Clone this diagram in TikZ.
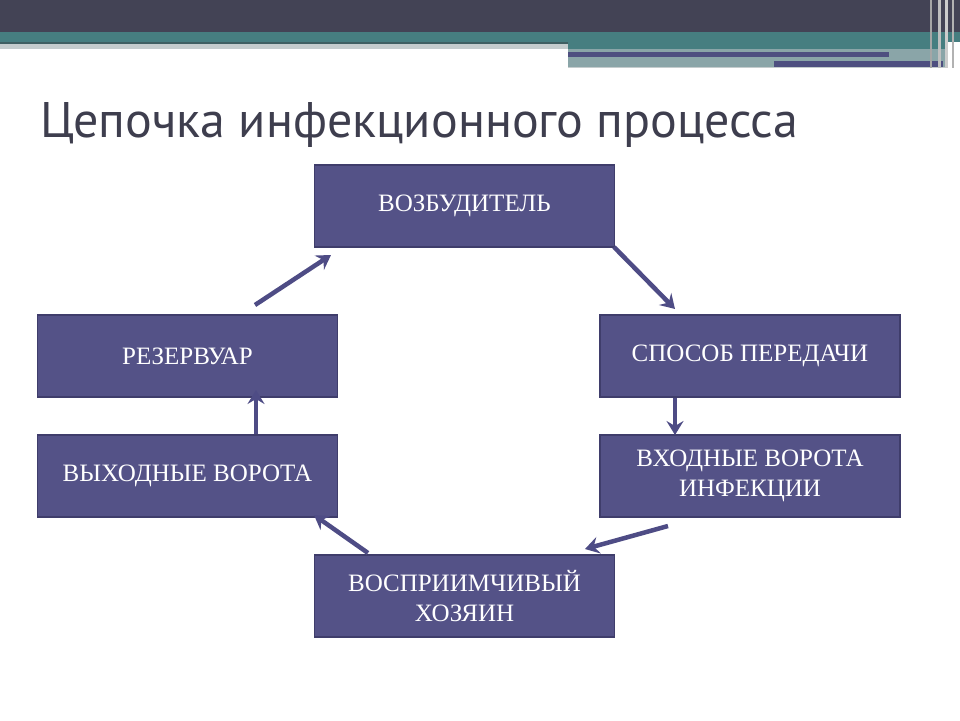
\documentclass[tikz,border=0pt]{standalone}
\usepackage{fontspec}
\setmainfont{Liberation Serif}
\newfontfamily\titlefont{PT Sans}
\usetikzlibrary{arrows.meta}
\definecolor{topdark}{HTML}{434355}
\definecolor{teal}{HTML}{467E80}
\definecolor{tealline}{HTML}{3F5F62}
\definecolor{greyband}{HTML}{C4CCCD}
\definecolor{lightteal}{HTML}{8AA5A8}
\definecolor{barpurple}{HTML}{4E4F80}
\definecolor{boxfill}{HTML}{545287}
\definecolor{boxline}{HTML}{3F3D6B}
\definecolor{arrowcol}{HTML}{4E4C85}
\definecolor{titlecol}{HTML}{3E3E4E}
\tikzset{
  stagebox/.style={draw=boxline, line width=1.5pt, fill=boxfill, text=white,
    minimum width=300pt, minimum height=82pt, align=center,
    font=\fontsize{25}{30}\selectfont, inner sep=2pt},
  flowarrow/.style={draw=arrowcol, line width=4.5pt,
    -{Stealth[length=14pt, width=17pt, inset=5pt]}}
}
\begin{document}
\begin{tikzpicture}[x=1pt, y=-1pt]
\useasboundingbox (0,0) rectangle (960,720);
% header decoration
\fill[white] (0,0) rectangle (960,720);
\fill[topdark] (0,0) rectangle (960,32);
\fill[teal] (0,32) rectangle (960,42);
\fill[tealline] (0,42) rectangle (568,44);
\fill[greyband] (0,44) rectangle (568,49);
\fill[teal] (568,42) rectangle (945,49);
\fill[lightteal] (568,49) rectangle (945,67);
\fill[greyband] (568,67) rectangle (945,68);
\fill[barpurple] (568,52) rectangle (889,57);
\fill[barpurple] (774,61) rectangle (943,67);
\fill[gray!70] (930,0) rectangle (932,68);
\fill[gray!50] (938,0) rectangle (941,68);
\fill[gray!40] (945,0) rectangle (948,68);
\fill[gray!60] (952,0) rectangle (954,68);
% title
\node[anchor=base west, text=titlecol, inner sep=0pt, font=\titlefont\fontsize{50}{60}\selectfont]
  (title) at (40,137) {Цепочка инфекционного процесса};
% boxes
\node[stagebox] (pathogen) at (464.5,206) {ВОЗБУДИТЕЛЬ};
\node[stagebox] (reservoir) at (187.5,356) {РЕЗЕРВУАР};
\node[stagebox] (transmission) at (750,356) {СПОСОБ ПЕРЕДАЧИ};
\node[stagebox] (exit) at (187.5,476) {ВЫХОДНЫЕ ВОРОТА};
\node[stagebox] (entry) at (750,476) {ВХОДНЫЕ ВОРОТА\\ИНФЕКЦИИ};
\node[stagebox] (host) at (464.5,596) {ВОСПРИИМЧИВЫЙ\\ХОЗЯИН};
% arrow end points
\coordinate (a1s) at (255,305); \coordinate (a1e) at (331,255);
\coordinate (a2s) at (614,247); \coordinate (a2e) at (675,309);
\coordinate (a3s) at (675,398); \coordinate (a3e) at (675,435);
\coordinate (a4s) at (668,526); \coordinate (a4e) at (585,549);
\coordinate (a5s) at (368,553); \coordinate (a5e) at (314,515);
\coordinate (a6s) at (256,434); \coordinate (a6e) at (256,390);
\draw[flowarrow] (a1s) -- (a1e);
\draw[flowarrow] (a2s) -- (a2e);
\draw[flowarrow] (a3s) -- (a3e);
\draw[flowarrow] (a4s) -- (a4e);
\draw[flowarrow] (a5s) -- (a5e);
\draw[flowarrow] (a6s) -- (a6e);
\end{tikzpicture}
\end{document}
